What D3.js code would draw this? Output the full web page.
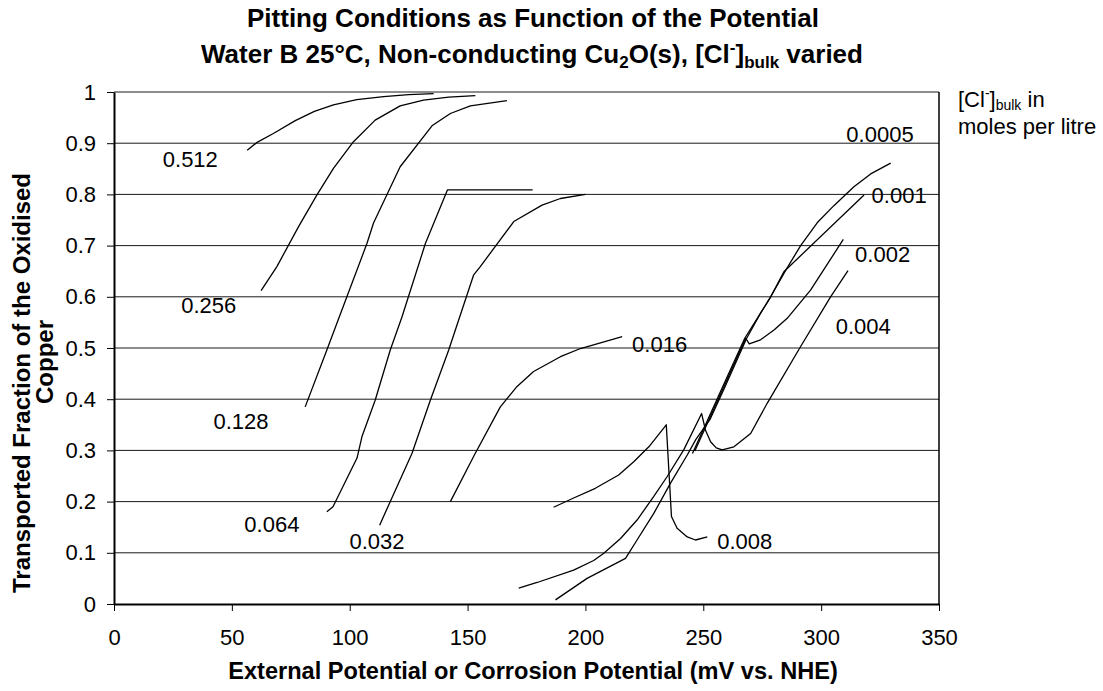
<!DOCTYPE html>
<html>
<head>
<meta charset="utf-8">
<script src="https://cdn.jsdelivr.net/npm/d3@7/dist/d3.min.js"></script>
<style>
  body { margin: 0; background: #fff; }
  svg { display: block; }
</style>
</head>
<body>
<svg id="chart" width="1103" height="691"></svg>
<script>
// Axis ticks
const xTicks = [0, 50, 100, 150, 200, 250, 300, 350];
const yTicks = [0, 0.1, 0.2, 0.3, 0.4, 0.5, 0.6, 0.7, 0.8, 0.9, 1];
const yTickLabels = ["0", "0.1", "0.2", "0.3", "0.4", "0.5", "0.6", "0.7", "0.8", "0.9", "1"];

// Bulk chloride concentrations (mol/L), one curve each
const concentrations = ["0.512", "0.256", "0.128", "0.064", "0.032", "0.016",
                        "0.008", "0.004", "0.002", "0.001", "0.0005"];

// [potential mV vs NHE, transported fraction]
const curve0512 = [[56.5,0.886],[60.5,0.901],[67.6,0.919],[76.9,0.944],[85,0.962],[93.1,0.975],
                   [103,0.985],[114.4,0.991],[125,0.995],[135.6,0.997]];
const curve0256 = [[62.4,0.612],[69.1,0.659],[78.3,0.737],[86.1,0.799],[93.1,0.851],[101.6,0.903],
                   [110.8,0.945],[121.4,0.973],[131.3,0.984],[142,0.990],[153.3,0.993]];
const curve0128 = [[81.1,0.385],[90.3,0.496],[98.8,0.600],[107.3,0.704],[110.1,0.744],[121.4,0.854],
                   [134.9,0.934],[142.7,0.958],[151.2,0.973],[166.7,0.983]];
const curve0064 = [[90.3,0.180],[92.9,0.190],[103.1,0.285],[105.2,0.327],[110.8,0.398],[117.2,0.496],
                   [122.2,0.561],[132.1,0.704],[141.5,0.809],[177.6,0.809]];
const curve0032 = [[112.7,0.154],[116.5,0.193],[126.4,0.294],[134.2,0.398],[142.0,0.496],[152.6,0.643],
                   [155.4,0.659],[169.6,0.747],[181.6,0.779],[189.4,0.792],[200.0,0.800]];
const curve0016 = [[142.7,0.200],[153,0.292],[163.9,0.385],[171,0.425],[178.0,0.454],[189.4,0.483],
                   [197.9,0.499],[215.6,0.522]];
const curve0008 = [[186.5,0.189],[195,0.207],[204.2,0.226],[214.1,0.252],[220.5,0.278],[226.9,0.307],
                   [234.3,0.350],[236.5,0.171],[238.9,0.148],[243.2,0.131],[246.7,0.125],[251.7,0.131]];
const curve0004 = [[171.7,0.031],[179.5,0.042],[195.0,0.066],[203.5,0.085],[207.8,0.099],[214.9,0.128],
                   [221.9,0.164],[229.0,0.210],[234.7,0.249],[241.7,0.301],[249.3,0.372],[250.9,0.340],
                   [253.1,0.317],[255.5,0.305],[258.0,0.301],[263.0,0.307],[270.1,0.333],[277.1,0.392],
                   [291.3,0.503],[304.0,0.600],[311.4,0.651]];
const curve0002 = [[246.4,0.299],[252.4,0.360],[258.4,0.421],[268.0,0.519],[269.5,0.508],[274.3,0.516],
                   [280.0,0.535],[285.6,0.558],[295.5,0.613],[309.4,0.712]];
const curve0001 = [[187.3,0.008],[200.7,0.050],[217.0,0.089],[221.9,0.125],[229.0,0.177],[236.1,0.236],
                   [243.2,0.291],[246.8,0.321],[252.8,0.360],[258.8,0.420],[268.4,0.519],[274.3,0.568],
                   [278.6,0.600],[284.2,0.649],[318.2,0.799]];
const curve00005 = [[245.4,0.294],[251.6,0.357],[257.6,0.418],[267.6,0.519],[274.3,0.568],[278.6,0.600],
                    [285.0,0.652],[291.3,0.700],[298.4,0.745],[305.4,0.778],[313.9,0.815],[321,0.840],
                    [329.5,0.861]];

// Where each concentration label sits (left edge / baseline, in data units)
const labelX = [20.7, 28.5, 42.2, 55.3, 99.9, 219.8, 255.9, 306.2, 314.4, 321.4, 310.7];
const labelY = [0.853, 0.569, 0.342, 0.141, 0.107, 0.492, 0.107, 0.527, 0.667, 0.783, 0.903];

const curves = [curve0512, curve0256, curve0128, curve0064, curve0032, curve0016,
                curve0008, curve0004, curve0002, curve0001, curve00005];

const FONT = "'Liberation Sans', Arial, Helvetica, sans-serif";

const svg = d3.select("#chart");
const plot = { left: 114, right: 939, top: 92, bottom: 604 };

const x = d3.scaleLinear().domain([0, 350]).range([plot.left, plot.right]);
const y = d3.scaleLinear().domain([0, 1]).range([plot.bottom, plot.top]);

// Horizontal gridlines
svg.append("g")
  .selectAll("line")
  .data(yTicks.filter(d => d > 0))
  .join("line")
  .attr("x1", plot.left).attr("x2", plot.right)
  .attr("y1", d => y(d)).attr("y2", d => y(d))
  .attr("stroke", "#1a1a1a").attr("stroke-width", 1);

// Right border of the plot area
svg.append("line")
  .attr("x1", plot.right).attr("x2", plot.right)
  .attr("y1", plot.top).attr("y2", plot.bottom)
  .attr("stroke", "#000").attr("stroke-width", 1.5);

// Curves
const line = d3.line().x(d => x(d[0])).y(d => y(d[1]));
svg.append("g")
  .selectAll("path")
  .data(curves)
  .join("path")
  .attr("d", line)
  .attr("fill", "none")
  .attr("stroke", "#000")
  .attr("stroke-width", 1.3)
  .attr("stroke-linejoin", "round");

// Concentration labels
svg.append("g")
  .selectAll("text")
  .data(concentrations)
  .join("text")
  .attr("x", (d, i) => x(labelX[i]))
  .attr("y", (d, i) => y(labelY[i]))
  .attr("font-family", FONT)
  .attr("font-size", 22)
  .attr("fill", "#000")
  .text(d => d);

// Axes
const yAxis = d3.axisLeft(y)
  .tickValues(yTicks)
  .tickFormat((d, i) => yTickLabels[i])
  .tickSizeInner(7).tickSizeOuter(0).tickPadding(11);
const gy = svg.append("g").attr("transform", `translate(${plot.left},0)`).call(yAxis);

const xAxis = d3.axisBottom(x)
  .tickValues(xTicks)
  .tickFormat(d3.format("d"))
  .tickSizeInner(7).tickSizeOuter(0).tickPadding(18);
const gx = svg.append("g").attr("transform", `translate(0,${plot.bottom})`).call(xAxis);

[gx, gy].forEach(g => {
  g.select(".domain").attr("stroke", "#000").attr("stroke-width", 2);
  g.selectAll(".tick line").attr("stroke", "#000").attr("stroke-width", 1);
  g.selectAll(".tick text").attr("font-family", FONT).attr("font-size", 22).attr("fill", "#000");
});

// Title
const title = svg.append("g")
  .attr("font-family", FONT).attr("font-weight", "bold").attr("font-size", 26)
  .attr("text-anchor", "middle").attr("fill", "#000");
title.append("text").attr("x", 533).attr("y", 27)
  .text("Pitting Conditions as Function of the Potential");
const t2 = title.append("text").attr("x", 532).attr("y", 63);
t2.append("tspan").text("Water B 25°C, Non-conducting Cu");
t2.append("tspan").attr("font-size", 17).attr("dy", 5).text("2");
t2.append("tspan").attr("dy", -5).text("O(s), [Cl");
t2.append("tspan").attr("font-size", 17).attr("dy", -10).text("-");
t2.append("tspan").attr("dy", 10).text("]");
t2.append("tspan").attr("font-size", 17).attr("dy", 5).text("bulk");
t2.append("tspan").attr("dy", -5).text(" varied");

// Axis titles
svg.append("text")
  .attr("x", 533).attr("y", 679)
  .attr("text-anchor", "middle")
  .attr("font-family", FONT).attr("font-weight", "bold").attr("font-size", 23.6)
  .text("External Potential or Corrosion Potential (mV vs. NHE)");

svg.append("text")
  .attr("transform", "translate(30,383) rotate(-90)")
  .attr("text-anchor", "middle")
  .attr("font-family", FONT).attr("font-weight", "bold").attr("font-size", 24)
  .text("Transported Fraction of the Oxidised");
svg.append("text")
  .attr("transform", "translate(53,362) rotate(-90)")
  .attr("text-anchor", "middle")
  .attr("font-family", FONT).attr("font-weight", "bold").attr("font-size", 24)
  .text("Copper");

// Legend note on the right
const note = svg.append("g").attr("font-family", FONT).attr("font-size", 22).attr("fill", "#000");
const n1 = note.append("text").attr("x", 958).attr("y", 107);
n1.append("tspan").text("[Cl");
n1.append("tspan").attr("font-size", 14).attr("dy", -9).text("-");
n1.append("tspan").attr("dy", 9).text("]");
n1.append("tspan").attr("font-size", 14).attr("dy", 3).text("bulk");
n1.append("tspan").attr("dy", -3).text(" in");
note.append("text").attr("x", 958).attr("y", 134).text("moles per litre");
</script>
</body>
</html>
